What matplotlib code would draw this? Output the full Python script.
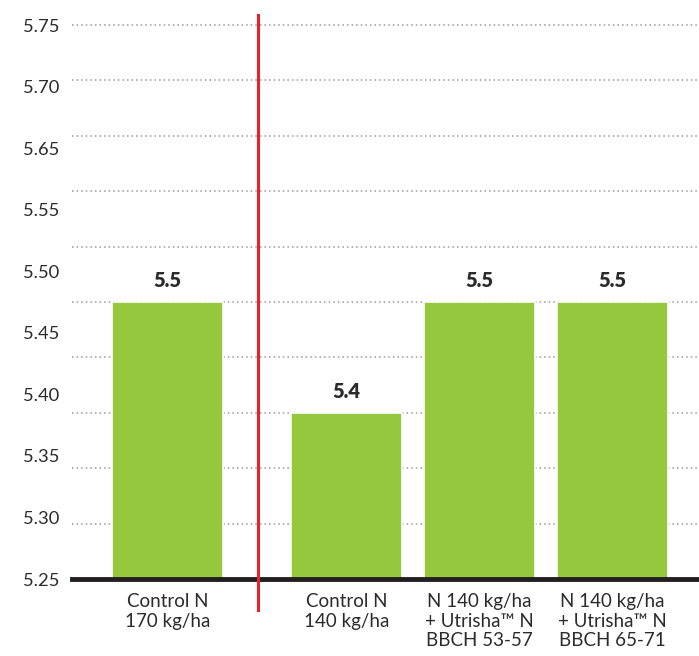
import matplotlib
matplotlib.use("Agg")
import matplotlib.pyplot as plt
import numpy as np

plt.rcParams['font.family'] = ['Lato', 'DejaVu Sans']

categories = ["Control N\n170 kg/ha",
              "Control N\n140 kg/ha",
              "N 140 kg/ha\n+ Utrisha\u2122 N\nBBCH 53-57",
              "N 140 kg/ha\n+ Utrisha\u2122 N\nBBCH 65-71"]
values = [5.5, 5.4, 5.5, 5.5]
value_labels = ["5.5", "5.4", "5.5", "5.5"]
ytick_labels = ["5.75", "5.70", "5.65", "5.55", "5.50", "5.45", "5.40", "5.35", "5.30", "5.25"]
grid_values = [5.30, 5.35, 5.40, 5.45, 5.50, 5.55, 5.60, 5.65, 5.70, 5.75]

green = "#95c83d"
red = "#e8212b"
txt = "#2b2b2b"

fig = plt.figure(figsize=(6.99, 6.56), dpi=100)
ax = fig.add_axes([72/699, 1 - 579/656, 1 - 72/699, 554/656])

# first bar sits apart from the other three (separated by the red line)
x = np.arange(len(values)) + np.array([0, 1, 1, 1]) * 0.345
bars = ax.bar(x, np.array(values) - 5.25, bottom=5.25, width=0.83,
              color=green, edgecolor="white", linewidth=1.2, zorder=2)

for xi, v, lab in zip(x, values, value_labels):
    ax.text(xi, v + 0.0105, lab, ha="center", va="bottom", fontsize=14.5,
            fontweight="heavy", color=txt, zorder=4)

ax.set_ylim(5.25, 5.75)
ax.set_xlim(-0.718, 3.996)

# gridlines every 0.05, labels spread evenly (as in the original)
for g in grid_values:
    ax.axhline(g, linestyle=(0, (1, 2)), color="#9a9a9a", linewidth=1.1,
               zorder=0, clip_on=False)

ax.set_yticks(np.linspace(5.75, 5.25, len(ytick_labels)))
ax.set_yticklabels(ytick_labels)
ax.tick_params(axis="y", length=0, pad=9, labelsize=13.2, labelcolor=txt)

ax.set_xticks(x)
ax.set_xticklabels(categories, linespacing=1.2)
ax.tick_params(axis="x", length=0, pad=10, labelsize=13.5, labelcolor=txt)

for s in ["top", "right", "left"]:
    ax.spines[s].set_visible(False)
ax.spines["bottom"].set_linewidth(3.5)
ax.spines["bottom"].set_color("#231f20")
ax.spines["bottom"].set_zorder(3)

ax.axvline(0.68, ymin=-0.056, ymax=1.018, color=red, linewidth=2.2,
           clip_on=False, zorder=5)

fig.savefig("out.png", dpi=100)
